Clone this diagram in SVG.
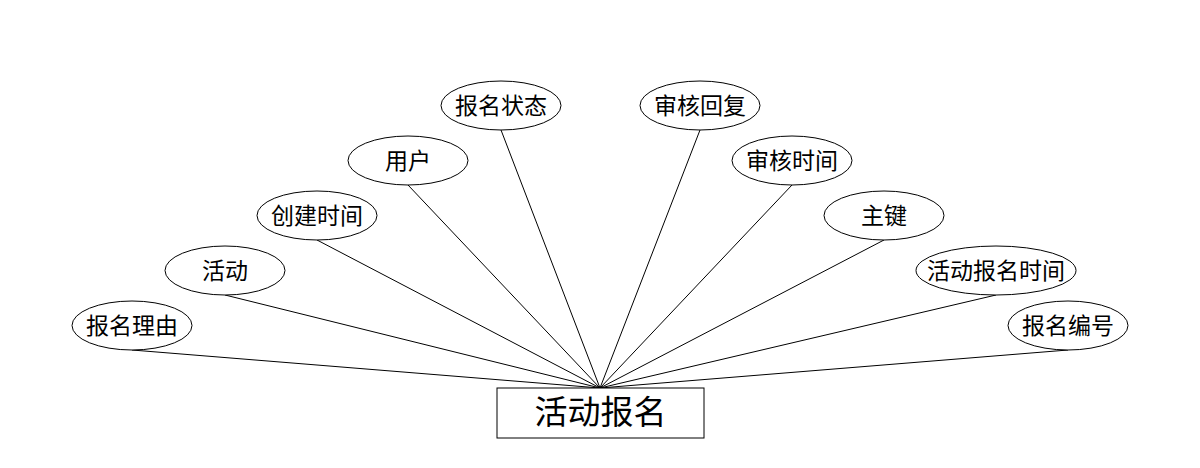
<svg xmlns="http://www.w3.org/2000/svg" width="1200" height="468" viewBox="0 0 1200 468">
<style>
.e{fill:#fff;stroke:#000;stroke-width:1}
.t{font-family:"Liberation Sans","Noto Sans CJK SC",sans-serif;font-size:23px;fill:#000;text-anchor:middle;dominant-baseline:central}
.c line{stroke:#000;stroke-width:1}
</style>
<rect width="1200" height="468" fill="#fff"/>
<g class="c" id="connectors">
<line x1="600" y1="388" x2="132" y2="350"/>
<line x1="600" y1="388" x2="225" y2="295"/>
<line x1="600" y1="388" x2="317" y2="240"/>
<line x1="600" y1="388" x2="408" y2="185"/>
<line x1="600" y1="388" x2="501" y2="130"/>
<line x1="600" y1="388" x2="700" y2="130"/>
<line x1="600" y1="388" x2="792" y2="185"/>
<line x1="600" y1="388" x2="884" y2="240"/>
<line x1="600" y1="388" x2="996" y2="295"/>
<line x1="600" y1="388" x2="1068" y2="350"/>
</g>
<g id="main"><rect x="497" y="388" width="207" height="50" fill="#fff" stroke="#000"/><text class="t" x="600.5" y="412.5" style="font-size:33px">活动报名</text></g>
<g id="a1"><ellipse class="e" cx="132" cy="325.5" rx="60" ry="24.5"/><text class="t" x="132" y="326">报名理由</text></g>
<g id="a2"><ellipse class="e" cx="225" cy="270.5" rx="60" ry="24.5"/><text class="t" x="225" y="271">活动</text></g>
<g id="a3"><ellipse class="e" cx="317" cy="215.5" rx="60" ry="24.5"/><text class="t" x="317" y="216">创建时间</text></g>
<g id="a4"><ellipse class="e" cx="408" cy="160.5" rx="60" ry="24.5"/><text class="t" x="408" y="161">用户</text></g>
<g id="a5"><ellipse class="e" cx="501" cy="105.5" rx="60" ry="24.5"/><text class="t" x="501" y="106">报名状态</text></g>
<g id="a6"><ellipse class="e" cx="700" cy="105.5" rx="60" ry="24.5"/><text class="t" x="700" y="106">审核回复</text></g>
<g id="a7"><ellipse class="e" cx="792" cy="160.5" rx="60" ry="24.5"/><text class="t" x="792" y="161">审核时间</text></g>
<g id="a8"><ellipse class="e" cx="884" cy="215.5" rx="60" ry="24.5"/><text class="t" x="884" y="216">主键</text></g>
<g id="a9"><ellipse class="e" cx="996" cy="270.5" rx="80" ry="24.5"/><text class="t" x="996" y="271">活动报名时间</text></g>
<g id="a10"><ellipse class="e" cx="1068" cy="325.5" rx="60" ry="24.5"/><text class="t" x="1068" y="326">报名编号</text></g>
</svg>
